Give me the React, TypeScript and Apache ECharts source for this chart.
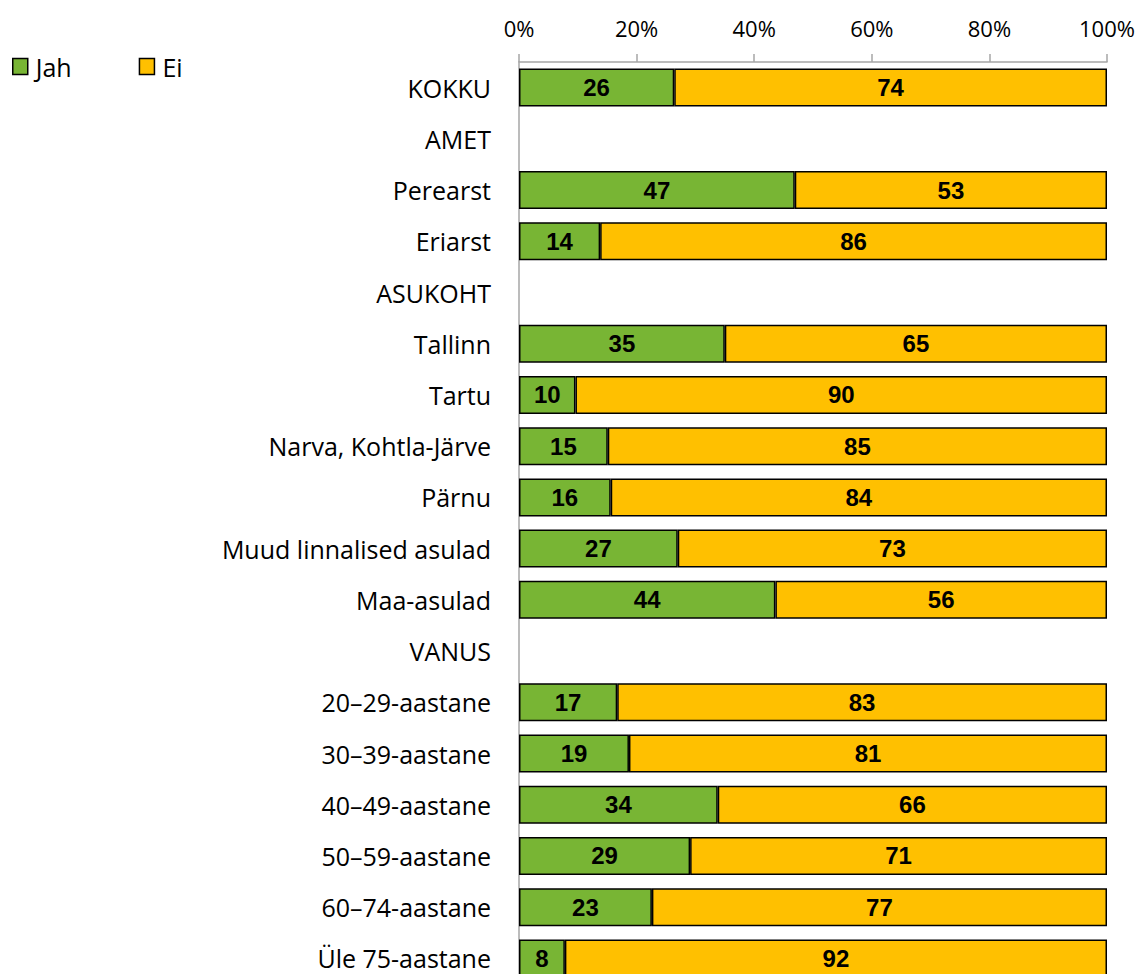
import React, { useEffect, useRef } from "react";
import * as echarts from "echarts";

const categories = [
  "KOKKU",
  "AMET",
  "Perearst",
  "Eriarst",
  "ASUKOHT",
  "Tallinn",
  "Tartu",
  "Narva, Kohtla-Järve",
  "Pärnu",
  "Muud linnalised asulad",
  "Maa-asulad",
  "VANUS",
  "20–29-aastane",
  "30–39-aastane",
  "40–49-aastane",
  "50–59-aastane",
  "60–74-aastane",
  "Üle 75-aastane",
];

const jahValues: (number | null)[] = [
  26.4, null, 46.9, 13.8, null, 35.0, 9.6, 15.1, 15.6, 27.0, 43.6, null, 16.7, 18.7, 33.8, 29.1, 22.6, 7.8,
];
const eiValues: (number | null)[] = [
  73.6, null, 53.1, 86.2, null, 65.0, 90.4, 84.9, 84.4, 73.0, 56.4, null, 83.3, 81.3, 66.2, 70.9, 77.4, 92.2,
];

const xTicks = [0, 20, 40, 60, 80, 100];

const FONT = "'Open Sans', Lato, 'Noto Sans', sans-serif";

export default function App() {
  const ref = useRef<HTMLDivElement>(null);
  useEffect(() => {
    if (!ref.current) return;
    const chart = echarts.init(ref.current, null, { renderer: "svg" });
    const labelStyle = {
      show: true,
      position: "inside" as const,
      color: "#000",
      fontFamily: "'Liberation Sans', Arial, sans-serif",
      fontWeight: "bold" as const,
      fontSize: 24,
      formatter: (p: any) => (p.value == null ? "" : String(Math.round(p.value))),
    };
    chart.setOption({
      animation: false,
      legend: {
        left: 12,
        top: 54,
        padding: 0,
        itemWidth: 15,
        itemHeight: 16,
        itemGap: 67,
        icon: "rect",
        textStyle: { fontFamily: FONT, fontSize: 25, color: "#000", padding: [0, 0, 0, 3] },
        data: [
          { name: "Jah", itemStyle: { borderColor: "#000", borderWidth: 1.5 } },
          { name: "Ei", itemStyle: { borderColor: "#000", borderWidth: 1.5 } },
        ],
      },
      grid: { left: 519, right: 33, top: 62, bottom: 16, containLabel: false },
      xAxis: {
        type: "value",
        position: "top",
        min: 0,
        max: 100,
        interval: 20,
        axisLine: { show: true, lineStyle: { color: "#a6a6a6", width: 1.5 } },
        axisTick: { show: true, length: 8, lineStyle: { color: "#a6a6a6", width: 1.5 } },
        splitLine: { show: false },
        axisLabel: {
          margin: 23,
          fontFamily: FONT,
          fontSize: 22,
          color: "#000",
          formatter: (v: number) => (xTicks.includes(v) ? v + "%" : ""),
        },
      },
      yAxis: {
        type: "category",
        inverse: true,
        data: categories,
        axisLine: { show: true, lineStyle: { color: "#a6a6a6", width: 1.5 } },
        axisTick: { show: false },
        axisLabel: { margin: 28, fontFamily: FONT, fontSize: 25, color: "#000" },
      },
      series: [
        {
          name: "Jah",
          type: "bar",
          stack: "total",
          barWidth: 38,
          data: jahValues,
          itemStyle: { color: "#78B534", borderColor: "#000", borderWidth: 1.5 },
          label: labelStyle,
        },
        {
          name: "Ei",
          type: "bar",
          stack: "total",
          barWidth: 38,
          data: eiValues,
          itemStyle: { color: "#FFC000", borderColor: "#000", borderWidth: 1.5 },
          label: labelStyle,
        },
      ],
    });
    return () => chart.dispose();
  }, []);
  return (
    <div
      ref={ref}
      style={{ position: "absolute", left: 0, top: 0, width: 1140, height: 1000 }}
    />
  );
}
